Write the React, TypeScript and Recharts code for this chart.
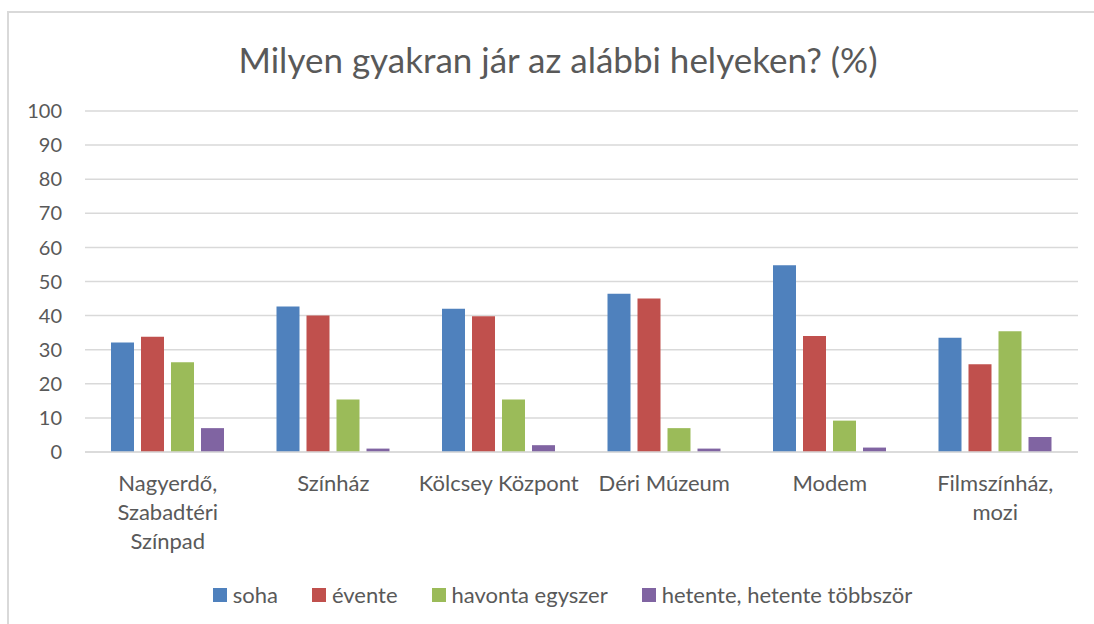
import React from "react";
import { BarChart, Bar, XAxis, YAxis, CartesianGrid } from "recharts";

const categories = [
  "Nagyerdő,\nSzabadtéri\nSzínpad",
  "Színház",
  "Kölcsey Központ",
  "Déri Múzeum",
  "Modem",
  "Filmszínház,\nmozi",
];
const soha = [32.1, 42.7, 42.0, 46.4, 54.8, 33.5];
const evente = [33.8, 40.0, 39.8, 45.0, 34.0, 25.7];
const havonta = [26.3, 15.4, 15.4, 7.0, 9.2, 35.4];
const hetente = [7.0, 1.0, 2.0, 1.0, 1.3, 4.4];
const yTicks = [0, 10, 20, 30, 40, 50, 60, 70, 80, 90, 100];

const seriesNames = ["soha", "évente", "havonta egyszer", "hetente, hetente többször"];
const seriesKeys = ["soha", "evente", "havonta", "hetente"];
const seriesColors = ["#4F81BD", "#C0504D", "#9BBB59", "#8064A2"];
const seriesValues = [soha, evente, havonta, hetente];

const title = "Milyen gyakran jár az alábbi helyeken? (%)";

const data = categories.map((c, i) => {
  const row: Record<string, string | number> = { name: c };
  seriesKeys.forEach((k, j) => {
    row[k] = seriesValues[j][i];
  });
  return row;
});

const FONT = "Lato, 'Noto Sans', sans-serif";
const TEXT = "#595959";

const XTick = (props: any) => {
  const { x, y, payload } = props;
  const lines = String(payload.value).split("\n");
  return (
    <g>
      {lines.map((l, i) => (
        <text
          key={i}
          x={x}
          y={y + 39 + i * 29}
          textAnchor="middle"
          fill={TEXT}
          fontSize={22}
          fontFamily={FONT}
        >
          {l}
        </text>
      ))}
    </g>
  );
};

export default function App() {
  return (
    <div style={{ position: "absolute", left: 0, top: 0, width: 1094, height: 624, background: "#fff", overflow: "hidden" }}>
      <div
        style={{
          position: "absolute",
          left: 7,
          top: 11,
          width: 1100,
          height: 640,
          borderTop: "2px solid #D9D9D9",
          borderLeft: "2px solid #D9D9D9",
          boxSizing: "border-box",
        }}
      />
      <div
        style={{
          position: "absolute",
          left: 0,
          top: 36,
          width: 1116,
          textAlign: "center",
          fontFamily: FONT,
          fontSize: 35,
          color: TEXT,
          lineHeight: "46px",
        }}
      >
        {title}
      </div>
      <div style={{ position: "absolute", left: 0, top: 0 }}>
        <BarChart
          width={1094}
          height={624}
          data={data}
          margin={{ top: 111, right: 16, left: 25, bottom: 0 }}
          barSize={23}
          barGap={7}
        >
          <CartesianGrid vertical={false} stroke="#D9D9D9" strokeWidth={1.5} />
          <XAxis
            dataKey="name"
            height={172}
            tickSize={0}
            tickMargin={0}
            tick={<XTick />}
            axisLine={{ stroke: "#D9D9D9", strokeWidth: 1.5 }}
            tickLine={false}
            interval={0}
          />
          <YAxis
            width={60}
            domain={[0, 100]}
            ticks={yTicks}
            interval={0}
            tickSize={0}
            tickMargin={23}
            axisLine={false}
            tickLine={false}
            tick={{ fill: TEXT, fontSize: 20, fontFamily: FONT }}
          />
          {seriesKeys.map((k, j) => (
            <Bar key={k} dataKey={k} name={seriesNames[j]} fill={seriesColors[j]} isAnimationActive={false} />
          ))}
        </BarChart>
      </div>
      <div
        style={{
          position: "absolute",
          left: 0,
          top: 581,
          width: 1125,
          display: "flex",
          justifyContent: "center",
          alignItems: "center",
          fontFamily: FONT,
          fontSize: 22,
          color: TEXT,
          lineHeight: "28px",
        }}
      >
        {seriesNames.map((n, j) => (
          <div key={n} style={{ display: "flex", alignItems: "center", marginRight: j < seriesNames.length - 1 ? 34 : 0 }}>
            <span style={{ display: "inline-block", width: 14, height: 14, background: seriesColors[j], marginRight: 6 }} />
            <span>{n}</span>
          </div>
        ))}
      </div>
    </div>
  );
}
